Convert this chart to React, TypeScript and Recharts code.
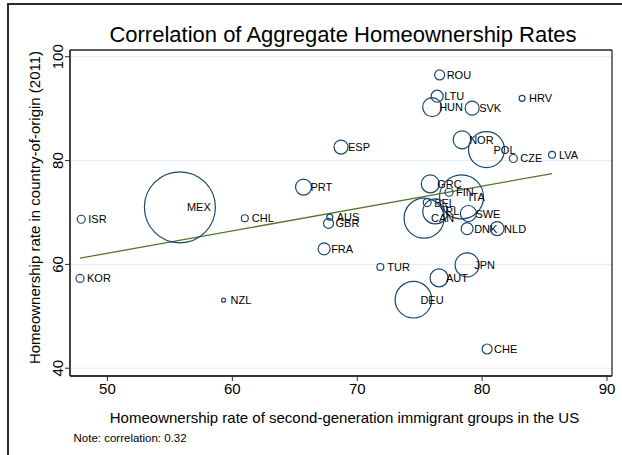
import React from 'react';
import { ScatterChart, Scatter, XAxis, YAxis, ZAxis, CartesianGrid } from 'recharts';

const countries = ['ROU','LTU','HUN','SVK','HRV','NOR','POL','CZE','LVA','ESP','GRC','FIN','ITA','BEL','IRL','CAN','SWE','DNK','NLD','PRT','ISR','MEX','CHL','AUS','GBR','FRA','TUR','JPN','AUT','DEU','KOR','NZL','CHE'];
const usRate = [76.6,76.4,76.0,79.2,83.2,78.4,80.35,82.5,85.6,68.7,75.85,77.35,78.35,75.6,76.25,75.35,78.9,78.8,81.2,65.7,47.9,55.8,61.0,67.8,67.7,67.35,71.85,78.8,76.55,74.5,47.8,59.3,80.4];
const originRate = [96.5,92.4,90.3,90.1,92.0,84.0,82.1,80.4,81.1,82.6,75.5,73.9,73.0,71.9,70.2,68.9,69.8,66.9,66.9,74.9,68.7,71.0,68.9,69.1,67.9,63.0,59.5,59.9,57.4,53.2,57.3,53.1,43.7];
const groupWeight = [25,36,90,49,9,81,324,16,12,49,81,16,484,16,156,400,64,36,49,64,16,1260,12,9,25,36,12,144,81,335,16,4,25];

const fitX = [47.8, 85.6];
const fitY = [61.2, 77.5];

const xTicks = [50, 60, 70, 80, 90];
const yTicks = [40, 60, 80, 100];

const bubbles = countries.map((name, i) => ({ name, x: usRate[i], y: originRate[i], w: groupWeight[i] }));
const fitData = fitX.map((x, i) => ({ x, y: fitY[i] }));

const FONT = 'Arial, "Liberation Sans", Helvetica, sans-serif';
const NAVY = '#1a476f';
const FRAME = '#2a2a2a';

const BubbleShape = (props: any) => {
  const { cx, cy, payload } = props;
  const r = props.width ? props.width / 2 : Math.sqrt((props.size || 0) / Math.PI);
  return (
    <g>
      <circle cx={cx} cy={cy} r={r} fill="none" stroke={NAVY} strokeWidth={1.2} />
      <text x={cx + 7} y={cy + 4} fontSize={11} fill="#000" fontFamily={FONT}>{payload.name}</text>
    </g>
  );
};

const NoShape = () => <g />;

const YTick = (props: any) => {
  const { x, y, payload } = props;
  return (
    <text x={x} y={y} transform={`rotate(-90 ${x} ${y})`} textAnchor="middle" fontSize={15} fill="#000" fontFamily={FONT}>
      {payload.value}
    </text>
  );
};

const boxH = ({ offset }: any) => [offset.top, offset.top + offset.height];
const boxV = ({ offset }: any) => [offset.left, offset.left + offset.width];

export default function App() {
  return (
    <div style={{ position: 'fixed', left: 0, top: 0, width: 622, height: 455, overflow: 'hidden', background: '#fff', fontFamily: FONT }}>
      <div style={{ position: 'absolute', left: 7, top: 3, width: 700, height: 700, borderLeft: `2px solid ${FRAME}`, borderTop: `2px solid ${FRAME}`, boxSizing: 'border-box' }} />
      <div style={{ position: 'absolute', left: 0, top: 0 }}>
        <ScatterChart width={622} height={455} margin={{ top: 50, right: 10, left: 0, bottom: 0 }}>
          <CartesianGrid vertical={false} stroke="#e3ecf0" strokeWidth={1} />
          <CartesianGrid stroke={FRAME} strokeWidth={1.3}
            horizontalCoordinatesGenerator={boxH} verticalCoordinatesGenerator={boxV} />
          <XAxis dataKey="x" type="number" domain={[47, 90.4]} ticks={xTicks} allowDataOverflow height={79}
            tick={{ fontSize: 15, fill: '#000', fontFamily: FONT }} tickSize={5} tickMargin={2}
            stroke={FRAME} axisLine={{ stroke: FRAME, strokeWidth: 1.3 }} tickLine={{ stroke: FRAME }} />
          <YAxis dataKey="y" type="number" domain={[38.5, 101.3]} ticks={yTicks} allowDataOverflow width={70}
            tick={<YTick />} tickSize={5} tickMargin={2}
            axisLine={{ stroke: FRAME, strokeWidth: 1.3 }} tickLine={{ stroke: FRAME }} />
          <ZAxis dataKey="w" type="number" domain={[0, 1260]} range={[0, 1260 * Math.PI]} />
          <Scatter data={fitData} line={{ stroke: '#55752f', strokeWidth: 1.3 }} shape={<NoShape />} isAnimationActive={false} />
          <Scatter data={bubbles} shape={<BubbleShape />} isAnimationActive={false} />
        </ScatterChart>
      </div>
      <svg width={622} height={455} style={{ position: 'absolute', left: 0, top: 0, pointerEvents: 'none' }}>
        <text x={343} y={42} textAnchor="middle" fontSize={22} fill="#000" fontFamily={FONT}>Correlation of Aggregate Homeownership Rates</text>
        <text transform="translate(40,207.5) rotate(-90)" textAnchor="middle" fontSize={15} fill="#000" fontFamily={FONT}>Homeownership rate in country-of-origin (2011)</text>
        <text x={344.5} y={423} textAnchor="middle" fontSize={15} fill="#000" fontFamily={FONT}>Homeownership rate of second-generation immigrant groups in the US</text>
        <text x={73.5} y={441.5} fontSize={11.5} fill="#000" fontFamily={FONT}>Note: correlation: 0.32</text>
      </svg>
    </div>
  );
}
